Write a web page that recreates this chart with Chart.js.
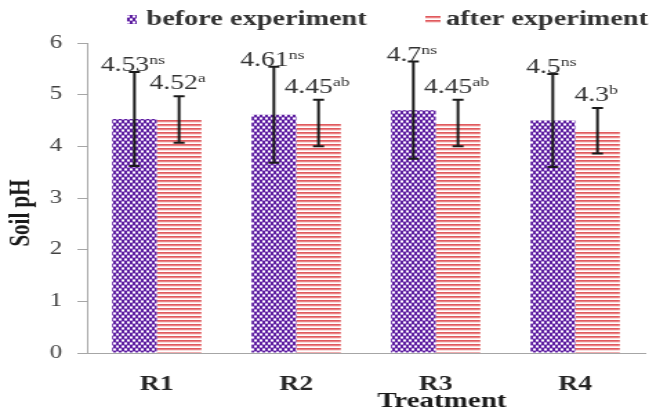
<!DOCTYPE html>
<html>
<head>
<meta charset="utf-8">
<script src="https://cdn.jsdelivr.net/npm/chart.js@4"></script>
<style>
  html, body { margin: 0; padding: 0; background: #fff; overflow: hidden; }
  /* the original figure is stretched sideways, so draw narrow and widen it */
  #wrap { width: 470px; height: 408px; transform: scaleX(1.3809); transform-origin: 0 0; }
</style>
</head>
<body>
<div id="wrap"><canvas id="phChart" width="470" height="408"></canvas></div>
<script>
const categories = ['R1', 'R2', 'R3', 'R4'];
const beforeValues = [4.53, 4.61, 4.7, 4.5];
const afterValues = [4.52, 4.45, 4.45, 4.3];
const beforeErrors = [0.91, 0.93, 0.94, 0.9];
const afterErrors = [0.45, 0.45, 0.45, 0.44];
const beforeLetters = ['ns', 'ns', 'ns', 'ns'];
const afterLetters = ['a', 'ab', 'ab', 'b'];
const yTicks = [0, 1, 2, 3, 4, 5, 6];

const serif = 'Liberation Serif';

// fill patterns: purple checker and red stripes
function checkerPattern() {
  const c = document.createElement('canvas');
  c.width = 4; c.height = 6;
  const g = c.getContext('2d');
  g.fillStyle = '#c2a0e2';
  g.fillRect(0, 0, 4, 6);
  g.fillStyle = '#5c1f9e';
  g.fillRect(0, 0, 2, 3);
  g.fillRect(2, 3, 2, 3);
  g.fillStyle = '#ffffff';
  g.fillRect(2, 1, 2, 1);
  g.fillRect(0, 4, 2, 1);
  return g.createPattern(c, 'repeat');
}
function stripePattern() {
  const c = document.createElement('canvas');
  c.width = 2; c.height = 4;
  const g = c.getContext('2d');
  g.fillStyle = '#ffffff';
  g.fillRect(0, 0, 2, 4);
  g.fillStyle = '#e05a5e';
  g.fillRect(0, 0, 2, 1);
  g.fillStyle = '#ea8486';
  g.fillRect(0, 1, 2, 1);
  g.fillStyle = '#fadcdc';
  g.fillRect(0, 2, 2, 1);
  return g.createPattern(c, 'repeat');
}
const beforeFill = checkerPattern();
const afterFill = stripePattern();

const errorBars = {
  id: 'errorBars',
  afterDatasetsDraw(chart) {
    const {ctx, scales: {y}} = chart;
    ctx.save();
    ctx.strokeStyle = '#1a1a1a';
    ctx.lineWidth = 2;
    chart.data.datasets.forEach((ds, di) => {
      chart.getDatasetMeta(di).data.forEach((bar, i) => {
        const v = ds.data[i], e = ds.errors[i];
        const top = y.getPixelForValue(v + e);
        const bot = y.getPixelForValue(v - e);
        ctx.beginPath();
        ctx.moveTo(bar.x, top); ctx.lineTo(bar.x, bot);
        ctx.moveTo(bar.x - 4, top); ctx.lineTo(bar.x + 4, top);
        ctx.moveTo(bar.x - 4, bot); ctx.lineTo(bar.x + 4, bot);
        ctx.stroke();
      });
    });
    ctx.restore();
  }
};

// value labels with significance letters as superscript
const valueLabels = {
  id: 'valueLabels',
  afterDatasetsDraw(chart) {
    const {ctx, scales: {y}} = chart;
    ctx.save();
    ctx.fillStyle = '#333333';
    ctx.textBaseline = 'alphabetic';
    ctx.textAlign = 'left';
    chart.data.datasets.forEach((ds, di) => {
      const lift = di === 0 ? 1 : 7;
      chart.getDatasetMeta(di).data.forEach((bar, i) => {
        const v = ds.data[i];
        const main = String(v), sup = ds.letters[i];
        ctx.font = '20px ' + serif;
        const wMain = ctx.measureText(main).width;
        ctx.font = '13px ' + serif;
        const wSup = ctx.measureText(sup).width;
        const x0 = bar.x - (wMain + wSup) / 2 - 1;
        const base = y.getPixelForValue(v + ds.errors[i]) - lift;
        ctx.font = '20px ' + serif;
        ctx.fillText(main, x0, base);
        ctx.font = '13px ' + serif;
        ctx.fillText(sup, x0 + wMain, base - 7);
      });
    });
    ctx.restore();
  }
};

const legendAndTitles = {
  id: 'legendAndTitles',
  afterDraw(chart) {
    const {ctx} = chart;
    ctx.save();
    const ds = chart.data.datasets;
    ctx.fillStyle = ds[0].backgroundColor;
    ctx.fillRect(92, 15, 7, 9);
    ctx.fillStyle = ds[1].backgroundColor;
    ctx.fillRect(308, 15, 11, 9);
    ctx.fillStyle = '#333333';
    ctx.font = 'bold 20.5px ' + serif;
    ctx.textAlign = 'left';
    ctx.textBaseline = 'alphabetic';
    ctx.fillText(ds[0].label, 106, 25);
    ctx.fillText(ds[1].label, 323, 25);

    ctx.fillStyle = '#1a1a1a';
    ctx.font = 'bold 21px ' + serif;
    ctx.textAlign = 'center';
    ctx.textBaseline = 'middle';
    ctx.fillText('Treatment', 320, 402);
    ctx.translate(16, 213);
    ctx.rotate(-Math.PI / 2);
    ctx.fillText('Soil pH', 0, 0);
    ctx.restore();
  }
};

const ctx = document.getElementById('phChart').getContext('2d');
const phChart = new Chart(ctx, {
  type: 'bar',
  data: {
    labels: categories,
    datasets: [{
      label: 'before experiment',
      data: beforeValues,
      errors: beforeErrors,
      letters: beforeLetters,
      backgroundColor: beforeFill,
      borderWidth: 0,
    }, {
      label: 'after experiment',
      data: afterValues,
      errors: afterErrors,
      letters: afterLetters,
      backgroundColor: afterFill,
      borderWidth: 0,
    }]
  },
  options: {
    responsive: false,
    animation: false,
    devicePixelRatio: 1,
    layout: { padding: { top: 43, right: 3, left: 0, bottom: 0 } },
    datasets: { bar: { barPercentage: 1, categoryPercentage: 0.64 } },
    plugins: {
      legend: { display: false },
      tooltip: { enabled: false },
    },
    scales: {
      x: {
        grid: { display: false },
        border: { display: true, color: '#a6a6a6', width: 1 },
        ticks: { color: '#262626', padding: 12, font: { family: serif, size: 20, weight: 'bold' } },
        afterFit(scale) { scale.height = 55; },
      },
      y: {
        min: 0,
        max: 6,
        afterBuildTicks(scale) { scale.ticks = yTicks.map(v => ({ value: v })); },
        grid: { display: true, drawOnChartArea: false, drawTicks: true, tickLength: 7, color: '#a6a6a6' },
        border: { display: true, color: '#a6a6a6', width: 1 },
        ticks: { color: '#404040', padding: 11, font: { family: serif, size: 18 } },
        afterFit(scale) { scale.width = 63; },
      }
    }
  },
  plugins: [errorBars, valueLabels, legendAndTitles]
});
</script>
</body>
</html>
